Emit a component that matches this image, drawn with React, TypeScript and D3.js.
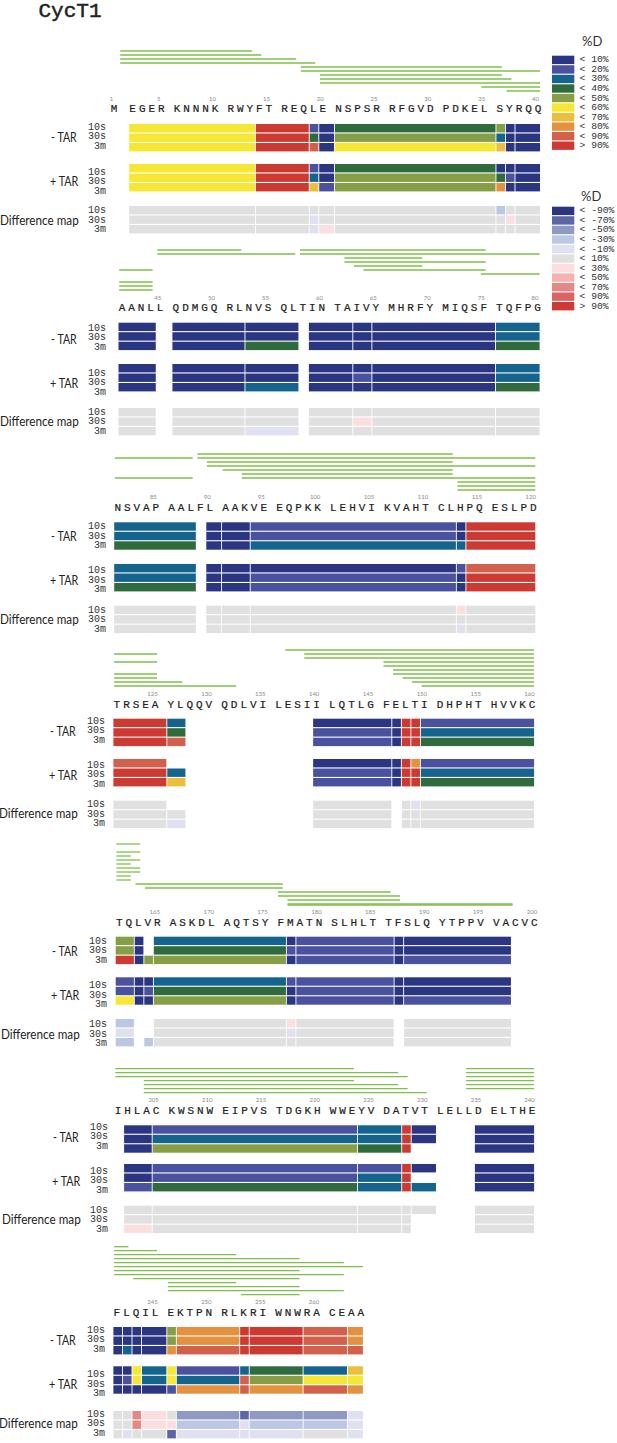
import React from "react";
import * as d3 from "d3";

type Row = (number | null)[];
type Peptide = [number, number, number];
const N = null;

// legend bins, >90% is stored as 100
const mainBins = [10, 20, 30, 40, 50, 60, 70, 80, 90, 100];
const mainLabels = ["< 10%", "< 20%", "< 30%", "< 40%", "< 50%", "< 60%", "< 70%", "< 80%", "< 90%", "> 90%"];
const mainColors = ["#2a3681", "#4a519e", "#15648d", "#2f6b3c", "#869e45", "#f6e735", "#ebbf3c", "#e4923f", "#d2604a", "#cd3a32"];
const diffBins = [-90, -70, -50, -30, -10, 10, 30, 50, 70, 90, 100];
const diffLabels = ["< -90%", "< -70%", "< -50%", "< -30%", "< -10%", "< 10%", "< 30%", "< 50%", "< 70%", "< 90%", "> 90%"];
const diffColors = ["#2a3681", "#5d67a6", "#8f99c3", "#bcc7e4", "#dfe0f0", "#e0e0e0", "#fbdfe0", "#f6b1b1", "#e38886", "#dc6360", "#cd3a32"];

const timeLabels = ["10s", "30s", "3m"];

// "_" widens the gap after M in the first block
const seq1 = "M _EGER KNNNK RWYFT REQLE NSPSR RFGVD PDKEL SYRQQ";
const seq2 = "AANLL QDMGQ RLNVS QLTIN TAIVY MHRFY MIQSF TQFPG";
const seq3 = "NSVAP AALFL AAKVE EQPKK LEHVI KVAHT CLHPQ ESLPD";
const seq4 = "TRSEA YLQQV QDLVI LESII LQTLG FELTI DHPHT HVVKC";
const seq5 = "TQLVR ASKDL AQTSY FMATN SLHLT TFSLQ YTPPV VACVC";
const seq6 = "IHLAC KWSNW EIPVS TDGKH WWEYV DATVT LELLD ELTHE";
const seq7 = "FLQIL EKTPN RLKRI WNWRA CEAA";

const ticks1 = [1, 5, 10, 15, 20, 25, 30, 35, 40];
const ticks2 = [45, 50, 55, 60, 65, 70, 75, 80];
const ticks3 = [85, 90, 95, 100, 105, 110, 115, 120];
const ticks4 = [125, 130, 135, 140, 145, 150, 155, 160];
const ticks5 = [165, 170, 175, 180, 185, 190, 195, 200];
const ticks6 = [205, 210, 215, 220, 225, 230, 235, 240];
const ticks7 = [245, 250, 255, 260];

// peptides: [stack row, first residue, last residue]
const peptides1: Peptide[] = [[0, 1.48, 13], [1, 1.48, 14], [2, 1.48, 17], [3, 1.48, 19], [4, 18, 36], [5, 18, 40], [6, 20, 36], [7, 20, 37], [8, 20, 40], [9, 35, 40], [10, 37, 40]];
const peptides2: Peptide[] = [[0, 45, 52], [0, 58, 75], [1, 45, 57], [1, 58, 80], [2, 62, 69], [3, 62, 75], [4, 63, 69], [5, 41, 44], [5, 64, 75], [6, 75, 80], [8, 41, 44], [9, 41, 44], [10, 41, 44]];
const peptides3: Peptide[] = [[0, 89, 112], [1, 81, 88], [1, 89, 120], [2, 90, 112], [3, 90, 120], [4, 91, 112], [5, 93, 112], [6, 81, 88], [6, 93, 120], [7, 113, 120], [8, 113, 120], [9, 113, 120]];
const peptides4: Peptide[] = [[0, 137, 160], [1, 121, 125], [1, 139, 160], [2, 139, 160], [3, 121, 125], [3, 146, 160], [4, 146, 160], [5, 147, 160], [6, 121, 125], [6, 147, 160], [7, 121, 125], [7, 148, 160], [8, 121, 127], [8, 149, 160], [9, 121, 132], [9, 150, 160]];
const peptides5: Peptide[] = [[0, 161, 163], [2, 161, 163], [3, 161, 162], [4, 161, 163], [5, 161, 162], [6, 161, 163], [7, 161, 163], [8, 161, 162], [9, 161, 162], [10, 163, 176], [11, 164, 176], [12, 176, 186], [13, 176, 187], [14, 177, 187], [15, 177, 197.5], [15.25, 177, 197.5]];
const peptides6: Peptide[] = [[0, 201, 223], [0, 234, 240], [1, 201, 227], [1, 234, 240], [2, 201, 228], [2, 234, 240], [3, 204, 223], [3, 234, 240], [4, 204, 227], [4, 234, 240], [5, 204, 228], [5, 234, 240], [6, 204, 230]];
const peptides7: Peptide[] = [[0, 241, 242], [1, 241, 245], [2, 241, 252], [3, 241, 258], [4, 241, 262], [5, 241, 264], [6, 241, 258], [7, 241, 262], [8, 243, 258], [9, 246, 252], [10, 246, 258], [11, 246, 262], [12, 253, 258]];

// residue ranges of the coloured segments in each block
const segments1 = [[2, 13], [14, 18], [19, 19], [20, 20], [21, 35], [36, 36], [37, 37], [38, 40]];
const minusTar1: Row[] = [[60, 100, 20, 10, 40, 50, 10, 10], [60, 100, 40, 10, 50, 30, 10, 10], [60, 100, 90, 10, 60, 70, 10, 10]];
const plusTar1: Row[] = [[60, 100, 20, 10, 40, 10, 10, 10], [60, 100, 30, 10, 50, 40, 20, 10], [60, 100, 70, 20, 50, 80, 10, 10]];
const diff1: Row[] = [[10, 10, 10, 10, 10, -30, 10, 10], [10, 10, -10, 10, 10, 10, 30, 10], [10, 10, -10, 30, 10, 10, 10, 10]];

const segments2 = [[41, 44], [46, 52], [53, 57], [59, 62], [63, 64], [65, 75], [76, 80]];
const minusTar2: Row[] = [[10, 10, 10, 10, 10, 10, 30], [10, 10, 10, 10, 10, 10, 30], [10, 10, 40, 10, 10, 10, 40]];
const plusTar2: Row[] = [[10, 10, 10, 10, 10, 10, 30], [10, 10, 10, 10, 20, 10, 30], [10, 10, 30, 10, 10, 10, 40]];
const diff2: Row[] = [[10, 10, 10, 10, 10, 10, 10], [10, 10, 10, 10, 30, 10, 10], [10, 10, -10, 10, 10, 10, 10]];

const segments3 = [[81, 88], [90, 90], [91, 93], [94, 112], [113, 113], [114, 120]];
const minusTar3: Row[] = [[30, 10, 10, 20, 10, 100], [30, 10, 10, 20, 10, 100], [40, 10, 10, 30, 30, 100]];
const plusTar3: Row[] = [[30, 10, 10, 10, 20, 90], [30, 10, 10, 20, 10, 100], [40, 10, 10, 20, 10, 100]];
const diff3: Row[] = [[10, 10, 10, 10, 30, 10], [10, 10, 10, 10, 10, 10], [10, 10, 10, 10, -10, 10]];

const segments4 = [[121, 125], [126, 127], [140, 146], [147, 147], [148, 148], [149, 149], [150, 160]];
const minusTar4: Row[] = [[100, 30, 10, 10, 100, 100, 20], [100, 40, 20, 10, 100, 100, 30], [100, 90, 20, 10, 100, 100, 40]];
const plusTar4: Row[] = [[90, N, 10, 10, 100, 80, 20], [100, 30, 20, 10, 100, 100, 30], [100, 70, 20, 10, 100, 100, 40]];
const diff4: Row[] = [[10, N, 10, N, 10, -10, 10], [10, 10, 10, N, 10, 10, 10], [10, -10, 10, N, 10, 10, 10]];

const segments5 = [[161, 162], [163, 163], [164, 164], [165, 176], [177, 177], [178, 186], [187, 187], [188, 197]];
const minusTar5: Row[] = [[50, 10, N, 30, 10, 20, 10, 10], [50, 10, N, 40, 20, 20, 10, 10], [100, 10, 50, 50, 10, 20, 10, 20]];
const plusTar5: Row[] = [[20, 10, 10, 30, 20, 20, 10, 10], [20, 10, 20, 40, 10, 20, 10, 10], [60, 10, 10, 50, 10, 20, 10, 20]];
const diff5: Row[] = [[-30, N, N, 10, 30, 10, N, 10], [-10, N, N, 10, -10, 10, N, 10], [-30, N, -30, 10, 10, 10, N, 10]];

const segments6 = [[202, 204], [205, 223], [224, 227], [228, 228], [229, 230], [235, 240]];
const minusTar6: Row[] = [[10, 20, 30, 100, 10, 10], [10, 30, 30, 100, 10, 10], [10, 50, 40, 100, N, 10]];
const plusTar6: Row[] = [[10, 20, 20, 100, 10, 10], [10, 20, 30, 100, N, 10], [20, 40, 30, 100, 30, 10]];
const diff6: Row[] = [[10, 10, 10, 10, 10, 10], [10, 10, 10, 10, N, 10], [30, 10, 10, 10, N, 10]];

const segments7 = [[241, 241], [242, 242], [243, 243], [244, 245], [246, 246], [247, 252], [253, 253], [254, 258], [259, 262], [263, 264]];
const minusTar7: Row[] = [[10, 10, 10, 10, 50, 80, 100, 100, 90, 80], [10, 10, 10, 10, 50, 80, 100, 100, 90, 80], [10, 30, 10, 10, 80, 90, 100, 100, 90, 90]];
const plusTar7: Row[] = [[10, 10, 60, 30, 60, 20, 30, 40, 30, 70], [10, 20, 60, 30, 60, 30, 90, 50, 60, 60], [10, 10, 10, 10, 20, 80, 90, 80, 90, 80]];
const diff7: Row[] = [[10, 10, 70, 30, 10, -50, -70, -50, -50, -10], [10, 10, 70, 30, 30, -30, -10, -30, -30, -10], [10, -10, 10, 10, -70, -10, -10, -10, 10, -10]];

// page geometry of each block
const LAYOUT = [
  { x0: 114.1, x1: 538, pep: 51, tick: 98, seq: 109, bars: [124, 164, 206], times: [127.3, 172, 210.7], names: [137, 181, 220], dx: 0 },
  { x0: 122, x1: 537.6, pep: 250, tick: 297.3, seq: 308, bars: [322.7, 364, 408], times: [328.3, 373.3, 412.3], names: [338.7, 382.7, 421], dx: 0 },
  { x0: 117.7, x1: 533.3, pep: 454, tick: 496.7, seq: 508.3, bars: [522.3, 564, 605.7], times: [526.7, 570.7, 610], names: [536.3, 580.3, 619], dx: 0 },
  { x0: 116.9, x1: 532.1, pep: 650, tick: 693.3, seq: 705, bars: [718.7, 759, 800.7], times: [721.3, 765.3, 804.7], names: [731, 775, 813.3], dx: -1 },
  { x0: 119.2, x1: 534.4, pep: 844, tick: 911, seq: 922.7, bars: [936.7, 977.3, 1019], times: [941, 985.7, 1024.7], names: [951, 995.3, 1033.7], dx: 1 },
  { x0: 118.1, x1: 532.1, pep: 1068.7, tick: 1099.7, seq: 1110.7, bars: [1125.3, 1164, 1205.7], times: [1127, 1171.3, 1210.3], names: [1137, 1181, 1219], dx: 2 },
  { x0: 116.9, x1: 360.9, pep: 1246.7, tick: 1301.7, seq: 1313.3, bars: [1327, 1366.3, 1411], times: [1330.3, 1374.7, 1414], names: [1340, 1384, 1422.7], dx: -1 },
];

const BLOCKS = [
  { seq: seq1, first: 1, ticks: ticks1, peptides: peptides1, segments: segments1, rows: [minusTar1, plusTar1, diff1] },
  { seq: seq2, first: 41, ticks: ticks2, peptides: peptides2, segments: segments2, rows: [minusTar2, plusTar2, diff2] },
  { seq: seq3, first: 81, ticks: ticks3, peptides: peptides3, segments: segments3, rows: [minusTar3, plusTar3, diff3] },
  { seq: seq4, first: 121, ticks: ticks4, peptides: peptides4, segments: segments4, rows: [minusTar4, plusTar4, diff4] },
  { seq: seq5, first: 161, ticks: ticks5, peptides: peptides5, segments: segments5, rows: [minusTar5, plusTar5, diff5] },
  { seq: seq6, first: 201, ticks: ticks6, peptides: peptides6, segments: segments6, rows: [minusTar6, plusTar6, diff6] },
  { seq: seq7, first: 241, ticks: ticks7, peptides: peptides7, segments: segments7, rows: [minusTar7, plusTar7, diff7] },
];

const GROUP_GAP = 0.65;
const ROW_STEP = 9.5;
const BAR_H = 8.4;
const PEP_STEP = 4;
const MONO = "'Liberation Mono', monospace";
const SANS = "Lato, 'Noto Sans', sans-serif";

const mainColor = d3.scaleOrdinal<number, string>().domain(mainBins).range(mainColors);
const diffColor = d3.scaleOrdinal<number, string>().domain(diffBins).range(diffColors);

// slot of each residue along the sequence line, groups of five have a gap between
function residueSlots(seq: string) {
  const slots: { ch: string; slot: number }[] = [];
  let s = 0;
  for (const ch of seq) {
    if (ch === " ") s += GROUP_GAP;
    else if (ch === "_") s += 0.3;
    else {
      slots.push({ ch, slot: s });
      s += 1;
    }
  }
  return slots;
}

function Block({ index }: { index: number }) {
  const b = BLOCKS[index];
  const l = LAYOUT[index];
  const letters = residueSlots(b.seq);
  const last = b.first + letters.length - 1;
  const x = d3.scaleLinear().domain([letters[0].slot, letters[letters.length - 1].slot]).range([l.x0, l.x1]);
  const pos = (r: number) => {
    const i = Math.floor(r - b.first);
    const f = r - b.first - i;
    const s = f > 0 ? letters[i].slot + f * (letters[i + 1].slot - letters[i].slot) : letters[i].slot;
    return x(s);
  };
  const pepY = d3.scaleLinear().domain([0, 1]).range([l.pep, l.pep + PEP_STEP]);
  const names = ["- TAR", "+ TAR", "Difference map"];
  const nameEnds = [76.7, 78.3, 78.7];
  const nameWidths = [25.6, 28.3, 78.7];

  return (
    <g>
      {b.peptides.map(([row, s, e], i) => (
        <line key={i} x1={pos(s) - 2.8} x2={pos(e) + 2} y1={pepY(row)} y2={pepY(row)} stroke="#7fc04a" strokeWidth={1.3} />
      ))}
      {b.ticks.map((t) => (
        <text key={t} x={pos(t) - 2.5} y={l.tick} fontFamily={SANS} fontSize={6} fill="#8a8a8a" textAnchor="middle" dominantBaseline="central">
          {t}
        </text>
      ))}
      {letters.map((d, i) => (
        <text key={i} x={x(d.slot)} y={l.seq} fontFamily={MONO} fontSize={11} fill="#222" stroke="#222" strokeWidth={0.2} textAnchor="middle" dominantBaseline="central">
          {d.ch}
        </text>
      ))}
      {b.rows.map((group, g) => {
        const color = g === 2 ? diffColor : mainColor;
        const y = d3.scaleLinear().domain([0, 1]).range([l.bars[g], l.bars[g] + ROW_STEP]);
        return (
          <g key={g}>
            {group.map((row, r) =>
              row.map((v, c) => {
                if (v === null) return null;
                const [s, e] = b.segments[c];
                const left = pos(s) - 3.5;
                const right = e < last ? pos(e + 1) - 4.4 : pos(e) + 2;
                return <rect key={`${r}-${c}`} x={left} y={y(r)} width={right - left} height={BAR_H} fill={color(v)} />;
              })
            )}
            {timeLabels.map((t, r) => (
              <text key={t} x={106 + l.dx} y={l.times[g] + r * 9.6} fontFamily={MONO} fontSize={10} fill="#333" textAnchor="end" dominantBaseline="central">
                {t}
              </text>
            ))}
            <text
              x={nameEnds[g] + l.dx}
              y={l.names[g]}
              fontFamily={SANS}
              fontSize={13}
              fill="#222"
              textAnchor="end"
              dominantBaseline="central"
              textLength={nameWidths[g]}
              lengthAdjust="spacingAndGlyphs"
            >
              {names[g]}
            </text>
          </g>
        );
      })}
    </g>
  );
}

function Legend({ labels, colors, top, titleX, titleY }: { labels: string[]; colors: string[]; top: number; titleX: number; titleY: number }) {
  const y = d3.scaleLinear().domain([0, 1]).range([top, top + 9.53]);
  return (
    <g>
      <text x={titleX} y={titleY} fontFamily={SANS} fontSize={13} fill="#333" dominantBaseline="central">
        %D
      </text>
      {labels.map((t, i) => (
        <g key={t}>
          <rect x={552} y={y(i)} width={22.3} height={BAR_H} fill={colors[i]} />
          <text x={579.5} y={y(i) + BAR_H / 2} fontFamily={MONO} fontSize={9.7} fill="#333" dominantBaseline="central">
            {t}
          </text>
        </g>
      ))}
    </g>
  );
}

export default function App() {
  return (
    <svg width={617} height={1443} style={{ position: "absolute", left: 0, top: 0, background: "#fff" }}>
      <text x={38.5} y={11} fontFamily={MONO} fontSize={21} fill="#222" stroke="#222" strokeWidth={0.5} dominantBaseline="central">
        CycT1
      </text>
      {BLOCKS.map((_, i) => (
        <Block key={i} index={i} />
      ))}
      <Legend labels={mainLabels} colors={mainColors} top={55.7} titleX={582} titleY={40.7} />
      <Legend labels={diffLabels} colors={diffColors} top={206.7} titleX={581} titleY={195.7} />
    </svg>
  );
}
